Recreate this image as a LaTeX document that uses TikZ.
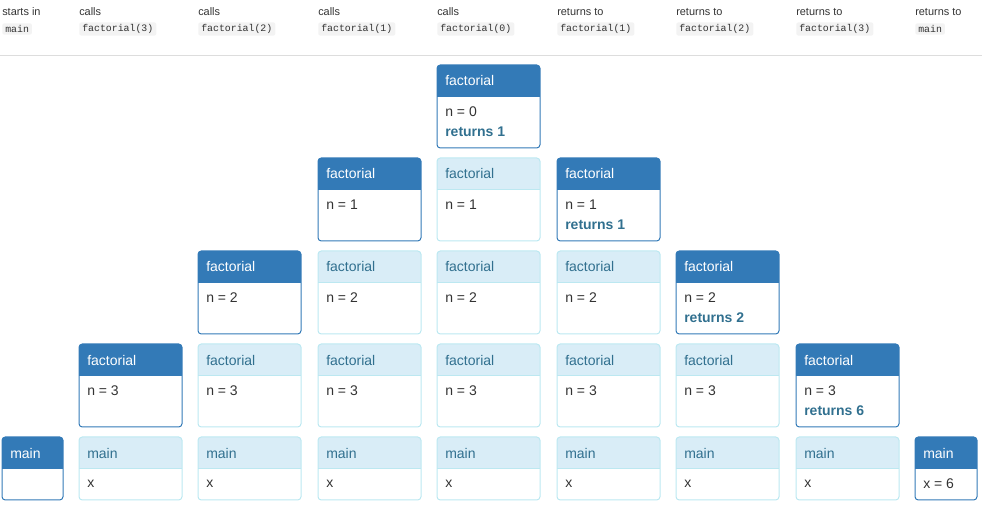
\documentclass[tikz,border=0pt]{standalone}
\usepackage{fontspec}
\setmainfont{Liberation Sans}
\setmonofont{Liberation Mono}
\usetikzlibrary{positioning}

\definecolor{actblue}{HTML}{337AB7}
\definecolor{idlefill}{HTML}{D9EDF7}
\definecolor{idleline}{HTML}{BCE8F1}
\definecolor{idletext}{HTML}{31708F}
\definecolor{bodytext}{HTML}{333333}
\definecolor{codebg}{HTML}{F3F3F3}
\definecolor{rulegray}{HTML}{DDDDDD}

\tikzset{
  holder/.style={inner sep=0pt, outer sep=0pt, anchor=north west},
  act line/.style={draw=actblue, line width=0.75pt},
  act head/.style={fill=actblue},
  act title/.style={text=white},
  idle line/.style={draw=idleline, line width=0.75pt},
  idle head/.style={fill=idlefill},
  idle title/.style={text=idletext},
  boxtext/.style={anchor=west, inner sep=0pt, font=\fontsize{10.5}{12}\selectfont},
  headtext/.style={anchor=west, inner sep=0pt, text=bodytext, font=\fontsize{8.2}{10}\selectfont},
  codetext/.style={anchor=west, fill=codebg, rounded corners=1.5pt, inner xsep=2.25pt,
    inner ysep=1.5pt, text=bodytext, font=\ttfamily\fontsize{7.4}{9}\selectfont}
}

% name, x, y, width, height, look, title, body, returns line
\newcommand{\callbox}[9]{%
  \node[holder, minimum width=#4*0.75pt, minimum height=#5*0.75pt] (#1) at (#2,#3) {};
  \begin{scope}
    \clip[rounded corners=2.5pt] (#1.north west) rectangle (#1.south east);
    \fill[#6 head] (#1.north west) rectangle ([yshift=-24pt]#1.north east);
  \end{scope}
  \draw[#6 line] ([yshift=-24pt]#1.north west) -- ([yshift=-24pt]#1.north east);
  \draw[#6 line, rounded corners=2.5pt] (#1.north west) rectangle (#1.south east);
  \node[boxtext, #6 title] (#1-t) at ([xshift=6pt,yshift=-12pt]#1.north west) {#7};
  \node[boxtext, text=bodytext] (#1-b) at ([xshift=6pt,yshift=-35.25pt]#1.north west) {#8};
  \ifx\relax#9\relax\else
    \node[boxtext, text=idletext, font=\bfseries\fontsize{10.5}{12}\selectfont] (#1-r)
      at ([xshift=6pt,yshift=-50.25pt]#1.north west) {#9};
  \fi
}

\begin{document}
\begin{tikzpicture}[x=0.75pt, y=-0.75pt]
  \useasboundingbox (0,0) rectangle (982,505);

  % step labels
  \foreach \x/\what/\fn [count=\i] in {2/starts in/main, 79/calls/factorial(3),
      198/calls/factorial(2), 318/calls/factorial(1), 437/calls/factorial(0),
      557/returns to/factorial(1), 676/returns to/factorial(2),
      796/returns to/factorial(3), 915/returns to/main} {
    \node[headtext] (step\i) at (\x,12) {\what};
    \node[codetext] (code\i) at (\x,29) {\fn};
  }
  \draw[rulegray, line width=0.75pt] (0,56) -- (982,56);

  % frames waiting below the top
  \foreach \x in {79,198,318,437,557,676,796}
    \callbox{main\x}{\x}{437}{103}{63}{idle}{main}{x}{};
  \foreach \x in {198,318,437,557,676}
    \callbox{three\x}{\x}{344}{103}{83}{idle}{factorial}{n = 3}{};
  \foreach \x in {318,437,557}
    \callbox{two\x}{\x}{251}{103}{83}{idle}{factorial}{n = 2}{};
  \callbox{one437}{437}{158}{103}{83}{idle}{factorial}{n = 1}{};

  % frame on top of the stack
  \callbox{main2}{2}{437}{61}{63}{act}{main}{}{};
  \callbox{three79}{79}{344}{103}{83}{act}{factorial}{n = 3}{};
  \callbox{two198}{198}{251}{103}{83}{act}{factorial}{n = 2}{};
  \callbox{one318}{318}{158}{103}{83}{act}{factorial}{n = 1}{};
  \callbox{zero437}{437}{65}{103}{83}{act}{factorial}{n = 0}{returns 1};
  \callbox{one557}{557}{158}{103}{83}{act}{factorial}{n = 1}{returns 1};
  \callbox{two676}{676}{251}{103}{83}{act}{factorial}{n = 2}{returns 2};
  \callbox{three796}{796}{344}{103}{83}{act}{factorial}{n = 3}{returns 6};
  \callbox{main915}{915}{437}{62}{63}{act}{main}{x = 6}{};
\end{tikzpicture}
\end{document}
